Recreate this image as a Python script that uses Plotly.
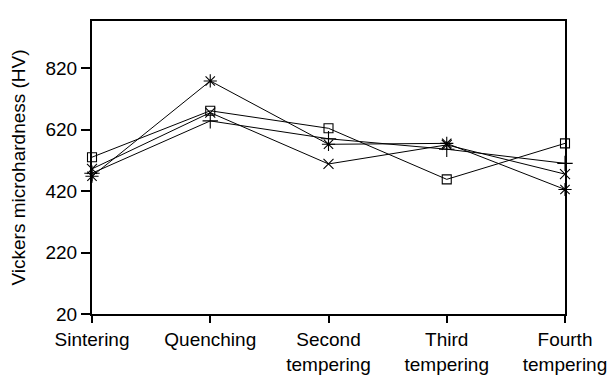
import plotly.graph_objects as go

categories = ["Sintering", "Quenching", "Second<br>tempering", "Third<br>tempering", "Fourth<br>tempering"]
series_square = [530, 681, 624, 458, 575]
series_asterisk = [468, 778, 572, 575, 425]
series_plus = [478, 648, 590, 556, 510]
series_x = [492, 675, 508, 570, 475]
y_ticks = [20, 220, 420, 620, 820]

xs = list(range(len(categories)))

fig = go.Figure()
specs = [
    (series_square, "square-open", 9),
    (series_asterisk, "asterisk-open", 11),
    (series_plus, "cross-thin-open", 11),
    (series_x, "x-thin-open", 10),
]
for vals, sym, size in specs:
    fig.add_trace(go.Scatter(
        x=xs, y=vals, mode="lines+markers",
        line=dict(color="black", width=1),
        marker=dict(symbol=sym, size=size, color="black",
                    line=dict(color="black", width=1.1)),
        showlegend=False, cliponaxis=False,
    ))

font = dict(family="Liberation Sans, Arial, sans-serif", size=19, color="black")
fig.update_layout(
    width=610, height=375,
    margin=dict(l=92, r=45, t=21, b=61),
    plot_bgcolor="white", paper_bgcolor="white",
    font=font,
)
fig.update_xaxes(
    range=[0, 4], tickmode="array", tickvals=xs, ticktext=categories,
    showline=True, linecolor="black", linewidth=2, mirror=True,
    ticks="outside", ticklen=7, tickwidth=2, tickcolor="black",
    showgrid=False, zeroline=False, tickfont=font, automargin=False,
)
fig.update_yaxes(
    range=[20, 973], tickmode="array", tickvals=y_ticks,
    showline=True, linecolor="black", linewidth=2, mirror=True,
    ticks="outside", ticklen=9, tickwidth=2, tickcolor="black",
    showgrid=False, zeroline=False, tickfont=font, automargin=False,
    title=dict(text="Vickers microhardness (HV)", font=font, standoff=15),
)
fig.write_html("out.html")
